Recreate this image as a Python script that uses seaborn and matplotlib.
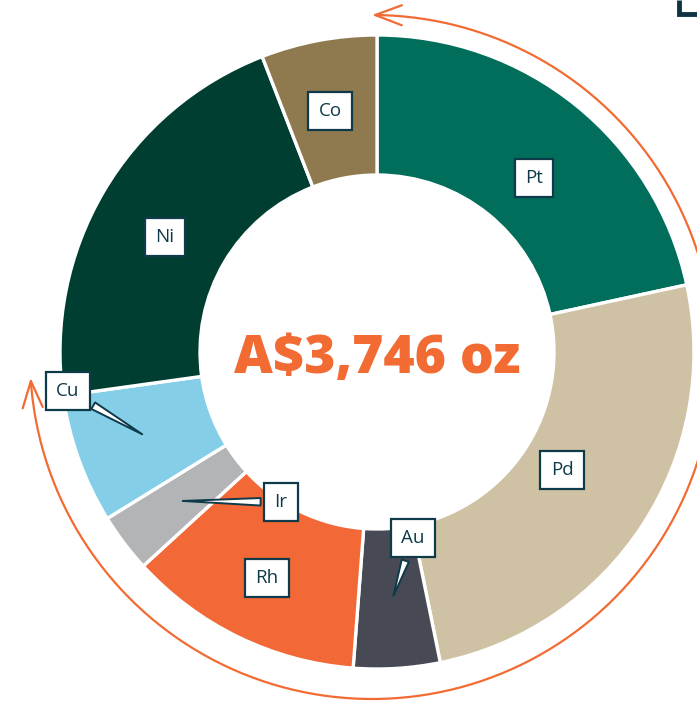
import numpy as np
import matplotlib
matplotlib.use("Agg")
import matplotlib.pyplot as plt
from matplotlib.path import Path
from matplotlib.patches import FancyArrowPatch
import seaborn as sns

# ---- data ----
categories = ["Pt", "Pd", "Au", "Rh", "Ir", "Cu", "Ni", "Co"]
shares = [21.6, 25.2, 4.4, 12.0, 3.0, 6.6, 21.3, 5.9]
colors = ["#006E5A", "#CFC2A4", "#474955", "#F26836", "#B2B4B6", "#84CEE8", "#013E32", "#8E7A4E"]
center_label = "A$3,746 oz"

# ---- layout (pixel space, y measured from top) ----
W, H = 697, 702
cx, cy = 377, 352
r_out, r_in = 317, 177
label_pos = {"Pt": (534, 178), "Pd": (562, 470), "Au": (413, 538), "Rh": (267, 578),
             "Ir": (281, 502), "Cu": (68, 391), "Ni": (165, 237), "Co": (330, 111)}
pointer_labels = ["Au", "Ir", "Cu"]
navy = "#0E3A4A"
orange = "#F26B33"

sns.set_style("white")
plt.rcParams["font.family"] = ["Open Sans", "DejaVu Sans"]

fig = plt.figure(figsize=(W / 100, H / 100), dpi=100)
ax = fig.add_axes([0, 0, 1, 1])
pal = sns.color_palette(colors)

wedges, _ = ax.pie(shares, colors=pal, startangle=90, counterclock=False,
                   center=(cx, H - cy), radius=r_out,
                   wedgeprops=dict(width=r_out - r_in, edgecolor="white", linewidth=2.4))

ax.set_xlim(0, W)
ax.set_ylim(0, H)
ax.set_aspect("auto")
ax.axis("off")

r_mid = (r_out + r_in) / 2
for w, cat in zip(wedges, categories):
    tx, ty = label_pos[cat]
    mid = np.deg2rad((w.theta1 + w.theta2) / 2)
    tip = (cx + r_mid * np.cos(mid), H - cy + r_mid * np.sin(mid))
    bbox = dict(boxstyle="square,pad=0.55", fc="white", ec=navy, lw=1.6)
    if cat in pointer_labels:
        ax.annotate(cat, xy=tip, xytext=(tx, H - ty), ha="center", va="center",
                    fontsize=13.5, color=navy, bbox=bbox,
                    arrowprops=dict(arrowstyle="wedge,tail_width=0.4,shrink_factor=0.5",
                                    fc="white", ec=navy, lw=1.4))
    else:
        ax.text(tx, H - ty, cat, ha="center", va="center", fontsize=13.5,
                color=navy, bbox=bbox)

ax.text(cx, H - 360, center_label, ha="center", va="center", fontsize=38.5,
        fontweight="heavy", color=orange)

# surrounding double arrow arc
acx, acy, ar = 372, 357, 342
th = np.deg2rad(np.linspace(-176.5, 90, 300))
pts = np.column_stack([acx + ar * np.cos(th), H - acy + ar * np.sin(th)])
arc = FancyArrowPatch(path=Path(pts), arrowstyle="<->,head_length=0.4,head_width=0.15",
                      mutation_scale=48, color=orange, lw=1.6, clip_on=False)
ax.add_patch(arc)

# corner bracket fragment (top right)
ax.plot([679, 679, 697], [H, H - 14, H - 14], color="#0F3443", lw=3.5,
        solid_capstyle="butt", solid_joinstyle="miter", clip_on=False)

fig.savefig("out.png", dpi=100)
